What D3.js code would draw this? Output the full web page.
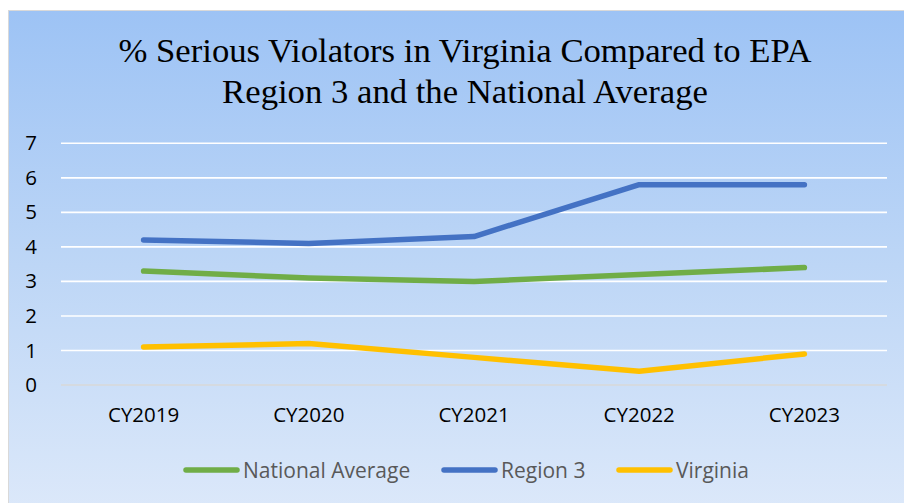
<!DOCTYPE html>
<html><head><meta charset="utf-8">
<script src="https://cdn.jsdelivr.net/npm/d3@7"></script>
<style>html,body{margin:0;padding:0;background:#fff;}svg{display:block;}</style>
</head><body>
<svg id="c" width="904" height="503"></svg>
<script>
const categories = ["CY2019","CY2020","CY2021","CY2022","CY2023"];
const nationalAverage = [3.3, 3.1, 3.0, 3.2, 3.4];
const region3 = [4.2, 4.1, 4.3, 5.8, 5.8];
const virginia = [1.1, 1.2, 0.8, 0.4, 0.9];
const yTicks = [0,1,2,3,4,5,6,7];
const seriesNames = ["National Average","Region 3","Virginia"];
const seriesColors = ["#70ad47","#4472c4","#ffc000"];
const titleLines = ["% Serious Violators in Virginia Compared to EPA","Region 3 and the National Average"];

const series = [nationalAverage, region3, virginia].map((v,i)=>({name:seriesNames[i], color:seriesColors[i], values:v}));

const svg = d3.select("#c");
const defs = svg.append("defs");
const grad = defs.append("linearGradient").attr("id","bg").attr("x1",0).attr("y1",0).attr("x2",0).attr("y2",1);
grad.append("stop").attr("offset","0%").attr("stop-color","#9dc3f5");
grad.append("stop").attr("offset","50%").attr("stop-color","#bdd6f6");
grad.append("stop").attr("offset","100%").attr("stop-color","#dde9fa");

svg.append("rect").attr("x",8.5).attr("y",10.5).attr("width",904).attr("height",510)
  .attr("fill","url(#bg)").attr("stroke","#d9d9d9").attr("stroke-width",1);

// title
svg.append("g").selectAll("text").data(titleLines).join("text")
  .attr("x",465).attr("y",(d,i)=>62+i*41)
  .attr("text-anchor","middle")
  .attr("font-family","'Liberation Serif','Times New Roman',serif")
  .attr("font-size",34.7).attr("fill","#000")
  .text(d=>d);

const x = d3.scaleBand().domain(categories).range([61,887]);
const y = d3.scaleLinear().domain([0,7]).range([385,143.3]);

// gridlines
svg.append("g").selectAll("line").data(yTicks).join("line")
  .attr("x1",61).attr("x2",887)
  .attr("y1",d=>y(d)).attr("y2",d=>y(d))
  .attr("stroke",d=>d===0?"#d9d9d9":"#ffffff").attr("stroke-width",1.6);

// y axis labels
const yAxis = d3.axisLeft(y).tickValues(yTicks).tickFormat(d3.format("d")).tickSize(0).tickPadding(0);
const gy = svg.append("g").attr("transform","translate(37,0)").call(yAxis);
gy.select(".domain").remove();
gy.selectAll("text").attr("font-family","'Open Sans',sans-serif").attr("font-size",20.5).attr("fill","#000");

// x axis labels
const xAxis = d3.axisBottom(x).tickSize(0).tickPadding(0);
const gx = svg.append("g").attr("transform","translate(0,407)").call(xAxis);
gx.select(".domain").remove();
gx.selectAll("text").attr("font-family","'Open Sans',sans-serif").attr("font-size",20.5).attr("fill","#000").attr("dy","0.72em");

// lines
const line = d3.line().x((d,i)=>x(categories[i])+x.bandwidth()/2).y(d=>y(d));
svg.append("g").selectAll("path").data(series).join("path")
  .attr("d",d=>line(d.values))
  .attr("fill","none").attr("stroke",d=>d.color).attr("stroke-width",5.5)
  .attr("stroke-linecap","round").attr("stroke-linejoin","round");

// legend
const legendX = [186, 444, 619];
const lg = svg.append("g").selectAll("g").data(series).join("g")
  .attr("transform",(d,i)=>`translate(${legendX[i]},470)`);
lg.append("line").attr("x1",0).attr("x2",51).attr("y1",0).attr("y2",0)
  .attr("stroke",d=>d.color).attr("stroke-width",5.5).attr("stroke-linecap","round");
lg.append("text").attr("x",57).attr("y",7.5)
  .attr("font-family","'Open Sans',sans-serif").attr("font-size",21).attr("fill","#595959")
  .text(d=>d.name);
</script>
</body></html>
